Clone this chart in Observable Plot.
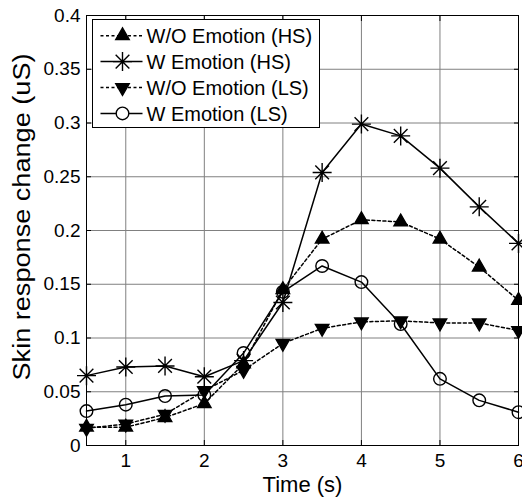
<!DOCTYPE html>
<html><head><meta charset="utf-8">
<script src="https://cdn.jsdelivr.net/npm/d3@7"></script>
<script src="https://cdn.jsdelivr.net/npm/@observablehq/plot@0.6"></script>
<style>
body{margin:0;background:#fff}
#wrap{position:relative;width:522px;height:504px;font-family:"Liberation Sans",Arial,sans-serif;overflow:hidden}
#legend{position:absolute;left:91.5px;top:19px;overflow:visible}
</style>
</head><body><div id="wrap"></div>
<script>
const time = [0.5, 1, 1.5, 2, 2.5, 3, 3.5, 4, 4.5, 5, 5.5, 6];
const seriesNames = ["W/O Emotion (HS)", "W Emotion (HS)", "W/O Emotion (LS)", "W Emotion (LS)"];
const woEmotionHS = [0.017, 0.017, 0.026, 0.039, 0.076, 0.145, 0.192, 0.210, 0.208, 0.192, 0.166, 0.135];
const wEmotionHS  = [0.065, 0.073, 0.074, 0.064, 0.079, 0.133, 0.254, 0.299, 0.288, 0.258, 0.222, 0.188];
const woEmotionLS = [0.016, 0.020, 0.029, 0.051, 0.070, 0.095, 0.109, 0.115, 0.116, 0.114, 0.114, 0.107];
const wEmotionLS  = [0.032, 0.038, 0.046, 0.047, 0.086, 0.143, 0.167, 0.152, 0.113, 0.062, 0.042, 0.031];
const xTicks = [1, 2, 3, 4, 5, 6];
const yTicks = [0, 0.05, 0.1, 0.15, 0.2, 0.25, 0.3, 0.35, 0.4];
const yTickLabels = ["0", "0.05", "0.1", "0.15", "0.2", "0.25", "0.3", "0.35", "0.4"];
const xLabel = "Time (s)";
const yLabel = "Skin response change (uS)";

const seriesValues = [woEmotionHS, wEmotionHS, woEmotionLS, wEmotionLS];

// 8-armed MATLAB-like asterisk
const asterisk = {
  draw(ctx, size) {
    const r = Math.sqrt(size / Math.PI), d = r * 0.72;
    ctx.moveTo(-r, 0); ctx.lineTo(r, 0);
    ctx.moveTo(0, -r); ctx.lineTo(0, r);
    ctx.moveTo(-d, -d); ctx.lineTo(d, d);
    ctx.moveTo(-d, d); ctx.lineTo(d, -d);
  }
};
const styles = [
  {symbol: "triangle", rotate: 0, fill: "black", dash: "3,2.5", r: 5},
  {symbol: asterisk, rotate: 0, fill: "none", dash: null, r: 9.5},
  {symbol: "triangle", rotate: 180, fill: "black", dash: "3,2.5", r: 5},
  {symbol: "circle", rotate: 0, fill: "none", dash: null, r: 6.3}
];

const rows = seriesValues.map((vals, i) => time.map((t, j) => ({t, v: vals[j], s: seriesNames[i]})));

const seriesMarks = rows.flatMap((data, i) => {
  const st = styles[i];
  return [
    Plot.line(data, {x: "t", y: "v", stroke: "black", strokeWidth: 1.5, strokeDasharray: st.dash}),
    Plot.dot(data, {x: "t", y: "v", symbol: st.symbol, r: st.r, rotate: st.rotate, fill: st.fill, stroke: "black", strokeWidth: 1.4})
  ];
});

const chart = Plot.plot({
  width: 522, height: 504,
  marginLeft: 86, marginRight: 4, marginTop: 15, marginBottom: 59,
  style: {fontFamily: '"Liberation Sans", Arial, sans-serif', fontSize: "19px", color: "black", background: "white", overflow: "visible"},
  x: {domain: [0.5, 6]},
  y: {domain: [0, 0.4]},
  marks: [
    Plot.gridX(xTicks, {stroke: "#808080", strokeOpacity: 1, strokeWidth: 1}),
    Plot.gridY(yTicks, {stroke: "#808080", strokeOpacity: 1, strokeWidth: 1}),
    Plot.axisX(xTicks, {anchor: "bottom", tickSize: 0, tickPadding: 8, fontSize: 19, label: xLabel, labelAnchor: "center", labelArrow: "none", labelOffset: 46}),
    Plot.axisY(yTicks, {anchor: "left", tickSize: 0, tickPadding: 6, fontSize: 19, tickFormat: (d, i) => yTickLabels[i], label: yLabel, labelAnchor: "center", labelArrow: "none", labelOffset: 73}),
    Plot.axisX(xTicks, {anchor: "bottom", tickSize: -5, tickFormat: () => "", label: null}),
    Plot.axisX(xTicks, {anchor: "top", tickSize: -5, tickFormat: () => "", label: null}),
    Plot.axisY(yTicks, {anchor: "left", tickSize: -5, tickFormat: () => "", label: null}),
    Plot.axisY(yTicks, {anchor: "right", tickSize: -5, tickFormat: () => "", label: null}),
    Plot.frame({stroke: "black", strokeWidth: 1}),
    ...seriesMarks
  ]
});

// label font sizes and y-label stretch/shift to match reference
d3.select(chart).selectAll('g[aria-label="x-axis label"]').attr("font-size", 22);
d3.select(chart).selectAll('g[aria-label="y-axis label"]').attr("font-size", 23);
d3.select(chart).selectAll("text").filter(function () { return this.textContent === yLabel; })
  .attr("textLength", 327).attr("lengthAdjust", "spacingAndGlyphs")
  .each(function () {
    const tr = this.getAttribute("transform") || "";
    const m = tr.match(/translate\(([-\d.]+)[ ,]+([-\d.]+)\)/);
    if (m) this.setAttribute("transform", tr.replace(m[0], `translate(${m[1]},${+m[2] - 13.5})`));
  });

const wrap = document.getElementById("wrap");
wrap.appendChild(chart);

// legend overlay
const lw = 228, lh = 109;
const leg = d3.create("svg").attr("id", "legend").attr("width", lw).attr("height", lh)
  .style("font-family", '"Liberation Sans", Arial, sans-serif');
leg.append("rect").attr("x", 0.5).attr("y", 0.5).attr("width", lw - 1).attr("height", lh - 1)
  .attr("fill", "white").attr("stroke", "black").attr("stroke-width", 1);
seriesNames.forEach((name, i) => {
  const st = styles[i];
  const y = 16.7 + i * 25.9;
  leg.append("line").attr("x1", 8.5).attr("x2", 50.5).attr("y1", y).attr("y2", y)
    .attr("stroke", "black").attr("stroke-width", 1.5).attr("stroke-dasharray", st.dash);
  const type = st.symbol === "triangle" ? d3.symbolTriangle : st.symbol === "circle" ? d3.symbolCircle : st.symbol;
  leg.append("path").attr("d", d3.symbol(type, Math.PI * st.r * st.r)())
    .attr("transform", `translate(30.5,${y}) rotate(${st.rotate})`)
    .attr("fill", st.fill === "none" ? "white" : st.fill).attr("stroke", "black").attr("stroke-width", 1.4);
  leg.append("text").attr("x", 54.5).attr("y", y).attr("dy", "0.36em")
    .attr("font-size", 20).attr("fill", "black").text(name);
});
wrap.appendChild(leg.node());
</script>
</body></html>
